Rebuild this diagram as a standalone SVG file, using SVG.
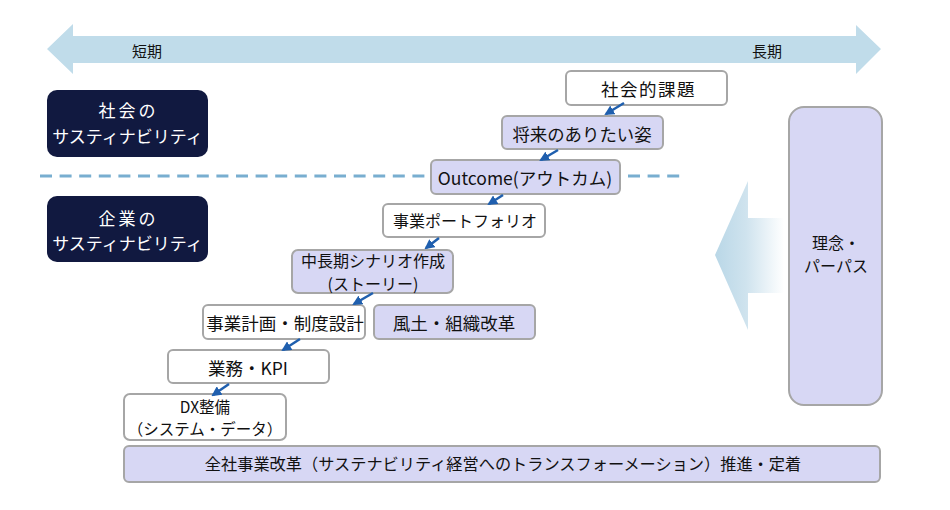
<svg xmlns="http://www.w3.org/2000/svg" width="950" height="510" viewBox="0 0 950 510">
<defs>
<style>
text{font-family:"Noto Sans CJK JP","Noto Sans",sans-serif;fill:#111;text-anchor:middle;dominant-baseline:central}
.w{fill:#fff;stroke:#a6a6a6;stroke-width:2}
.l{fill:#d7d7f4;stroke:#a6a6a6;stroke-width:2}
.d{fill:#111940}
.dt{fill:#fff;font-size:17px}
.t{font-size:17px}
.c{stroke:#1f5fae;stroke-width:2.5;fill:none;marker-end:url(#ah)}
</style>
<marker id="ah" viewBox="0 0 10 10" refX="8" refY="5" markerWidth="4" markerHeight="4" orient="auto" markerUnits="strokeWidth">
<path d="M0,0 L10,5 L0,10 z" fill="#1f5fae"/>
</marker>
<linearGradient id="g" gradientUnits="userSpaceOnUse" x1="715" y1="0" x2="784" y2="0">
<stop offset="0" stop-color="#b9d7e7"/>
<stop offset="0.45" stop-color="#cfe3ee"/>
<stop offset="1" stop-color="#ffffff"/>
</linearGradient>
</defs>
<rect width="950" height="510" fill="#fff"/>

<g id="timeline">
<polygon points="47,49 73,24 73,36 856,36 856,25 881,49 856,74 856,63 73,63 73,74" fill="#c0dcea"/>
<text x="147" y="50" style="font-size:15px">短期</text>
<text x="767" y="50" style="font-size:15px">長期</text>
</g>

<line x1="40" y1="176" x2="680" y2="176" stroke="#78aed0" stroke-width="3" stroke-dasharray="12 7.6"/>

<g id="inflow">
<polygon points="715,255 748,181 748,218 784,218 784,293 748,293 748,330" fill="url(#g)"/>
</g>

<g id="social">
<rect class="d" x="47" y="90" width="161" height="67" rx="10"/>
<text class="dt" x="128.5" y="109" style="letter-spacing:3px">社会の</text>
<text class="dt" x="127.5" y="135">サスティナビリティ</text>
</g>
<g id="corporate">
<rect class="d" x="47" y="196" width="161" height="66" rx="10"/>
<text class="dt" x="128.5" y="217" style="letter-spacing:3px">企業の</text>
<text class="dt" x="127.5" y="242">サスティナビリティ</text>
</g>

<g id="kadai">
<rect class="w" x="566" y="71" width="161" height="34" rx="5"/>
<text class="t" x="648.5" y="88" style="font-size:17.5px;letter-spacing:1.5px">社会的課題</text>
</g>
<g id="shourai">
<rect class="l" x="502" y="116" width="161" height="33" rx="5"/>
<text class="t" x="582" y="133" style="font-size:17.4px">将来のありたい姿</text>
</g>
<g id="outcome">
<rect class="l" x="431" y="160" width="189" height="34" rx="5"/>
<text class="t" x="525" y="177" style="font-size:17.5px">Outcome(アウトカム)</text>
</g>
<g id="portfolio">
<rect class="w" x="383" y="204" width="162" height="33" rx="5"/>
<text class="t" x="465" y="220" style="font-size:16px">事業ポートフォリオ</text>
</g>
<g id="scenario">
<rect class="l" x="292" y="250" width="161" height="43" rx="6"/>
<text class="t" x="373" y="260" style="font-size:16px">中長期シナリオ作成<tspan x="373" dy="23.4">(ストーリー)</tspan></text>
</g>
<g id="keikaku">
<rect class="w" x="203" y="305" width="162" height="34" rx="5"/>
<text class="t" x="285" y="322" style="font-size:17.5px">事業計画・制度設計</text>
</g>
<g id="fudo">
<rect class="l" x="374" y="305" width="161" height="34" rx="5"/>
<text class="t" x="454" y="322" style="font-size:17.5px">風土・組織改革</text>
</g>
<g id="kpi">
<rect class="w" x="168" y="350" width="161" height="33" rx="5"/>
<text class="t" x="248" y="367" style="font-size:17.5px">業務・KPI</text>
</g>
<g id="dx">
<rect class="w" x="124" y="394" width="162" height="46" rx="6"/>
<text class="t" x="205" y="405.5" style="font-size:15.5px">DX整備<tspan x="205" dy="22.6">（システム・データ）</tspan></text>
</g>
<g id="zensha">
<rect class="l" x="124" y="446" width="756" height="36" rx="5"/>
<text class="t" x="503" y="463" style="font-size:16.2px">全社事業改革（サステナビリティ経営へのトランスフォーメーション）推進・定着</text>
</g>
<g id="rinen">
<rect class="l" x="789" y="107" width="93" height="298" rx="15"/>
<text class="t" x="836" y="242" style="font-size:16px">理念・<tspan x="836" dy="23.4">パーパス</tspan></text>
</g>

<g id="connectors">
<line class="c" x1="624" y1="103" x2="606" y2="114"/>
<line class="c" x1="558" y1="150" x2="541" y2="160"/>
<line class="c" x1="503" y1="195" x2="489" y2="204"/>
<line class="c" x1="439" y1="238" x2="426" y2="248"/>
<line class="c" x1="373" y1="293" x2="354" y2="304"/>
<line class="c" x1="300" y1="339" x2="283" y2="350"/>
<line class="c" x1="229" y1="384" x2="213" y2="395"/>
</g>
</svg>
